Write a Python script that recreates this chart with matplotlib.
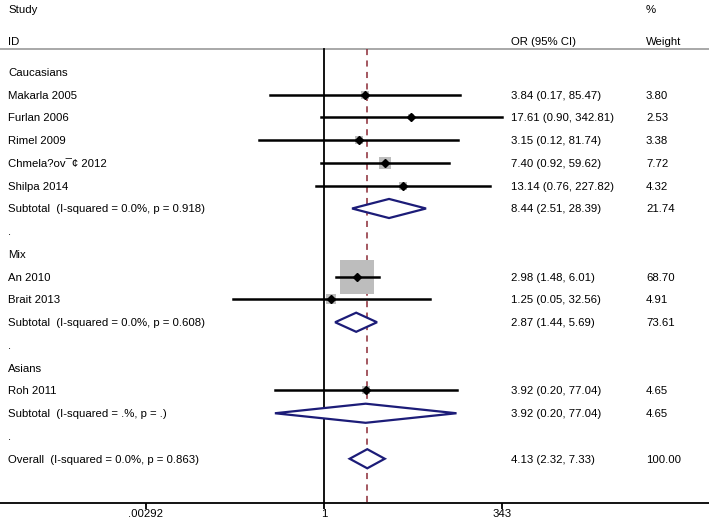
import numpy as np
import matplotlib
matplotlib.use("Agg")
import matplotlib.pyplot as plt

plt.rcParams['font.family'] = ['Liberation Sans', 'DejaVu Sans']

# rows, top to bottom (row index = position)
labels = ["Caucasians", "Makarla 2005", "Furlan 2006", "Rimel 2009", "Chmela?ov¯¢ 2012",
          "Shilpa 2014", "Subtotal  (I-squared = 0.0%, p = 0.918)", ".",
          "Mix", "An 2010", "Brait 2013", "Subtotal  (I-squared = 0.0%, p = 0.608)", ".",
          "Asians", "Roh 2011", "Subtotal  (I-squared = .%, p = .)", ".",
          "Overall  (I-squared = 0.0%, p = 0.863)"]
kinds = ["head", "study", "study", "study", "study", "study", "sub", "blank",
         "head", "study", "study", "sub", "blank",
         "head", "study", "sub", "blank", "sub"]
est = [None, 3.84, 17.61, 3.15, 7.40, 13.14, 8.44, None,
       None, 2.98, 1.25, 2.87, None,
       None, 3.92, 3.92, None, 4.13]
lo = [None, 0.17, 0.90, 0.12, 0.92, 0.76, 2.51, None,
      None, 1.48, 0.05, 1.44, None,
      None, 0.20, 0.20, None, 2.32]
hi = [None, 85.47, 342.81, 81.74, 59.62, 227.82, 28.39, None,
      None, 6.01, 32.56, 5.69, None,
      None, 77.04, 77.04, None, 7.33]
weight = [None, 3.80, 2.53, 3.38, 7.72, 4.32, 21.74, None,
          None, 68.70, 4.91, 73.61, None,
          None, 4.65, 4.65, None, 100.00]
overall = 4.13
tick_vals = [0.00292, 1, 343]
tick_labels = [".00292", "1", "343"]

W, H = 709, 524
fig = plt.figure(figsize=(W / 100, H / 100), dpi=100)
axis_px = 503
ax = fig.add_axes([0, (H - axis_px) / H, 1, axis_px / H])
ax.set_xscale('log')
# pixel mapping: x = 324 + 30.5*ln(v); y = 72 + 22.75*row
ax.set_xlim(np.exp(-324 / 30.5), np.exp((W - 324) / 30.5))
ax.set_ylim((axis_px - 72) / 22.75, -72 / 22.75)
for s in ['top', 'left', 'right']:
    ax.spines[s].set_visible(False)
ax.spines['bottom'].set_linewidth(1.3)
ax.set_yticks([])
ax.set_xticks(tick_vals)
ax.set_xticklabels(tick_labels, fontsize=8.2)
ax.minorticks_off()
ax.tick_params(axis='x', direction='out', length=4, width=1.3, pad=0.5)

ytop = -1.0
ybot = (axis_px - 72) / 22.75
ax.plot([0.00001, 1e6], [ytop, ytop], color='#9a9a9a', lw=1.2, clip_on=False)
ax.plot([1, 1], [ytop, ybot], color='black', lw=1.3)
ax.plot([overall, overall], [ytop, ybot], color='#8b2a35', lw=1.1, ls=(0, (4, 3.5)))

xt = ax.get_yaxis_transform()  # x in axes fraction, y in data
fs = 8.2
va = 'center_baseline'
ax.text(8 / W, -2.78, "Study", transform=xt, fontsize=fs, va=va)
ax.text(8 / W, -1.38, "ID", transform=xt, fontsize=fs, va=va)
ax.text(511 / W, -1.38, "OR (95% CI)", transform=xt, fontsize=fs, va=va)
ax.text(646 / W, -2.78, "%", transform=xt, fontsize=fs, va=va)
ax.text(646 / W, -1.38, "Weight", transform=xt, fontsize=fs, va=va)

for i, lab in enumerate(labels):
    ax.text(8 / W, i, lab, transform=xt, fontsize=fs, va=va)
    k = kinds[i]
    if k in ("study", "sub"):
        ax.text(511 / W, i, f"{est[i]:.2f} ({lo[i]:.2f}, {hi[i]:.2f})",
                transform=xt, fontsize=fs, va=va)
        ax.text(646 / W, i, f"{weight[i]:.2f}", transform=xt, fontsize=fs, va=va)
    if k == "study":
        side_px = 34 * np.sqrt(weight[i] / 68.70)
        ax.scatter([est[i]], [i], marker='s', s=(side_px * 0.72) ** 2,
                   color='#bdbdbd', zorder=2, linewidths=0)
        ax.plot([lo[i], hi[i]], [i, i], color='black', lw=1.8, zorder=3)
        ax.plot([est[i]], [i], marker='D', color='black', ms=4, zorder=4)
    elif k == "sub":
        h = 0.42
        ax.fill([lo[i], est[i], hi[i], est[i], lo[i]], [i, i - h, i, i + h, i],
                facecolor='white', edgecolor='#1c1c78', lw=1.6, zorder=3)

fig.savefig("out.png", dpi=100)
